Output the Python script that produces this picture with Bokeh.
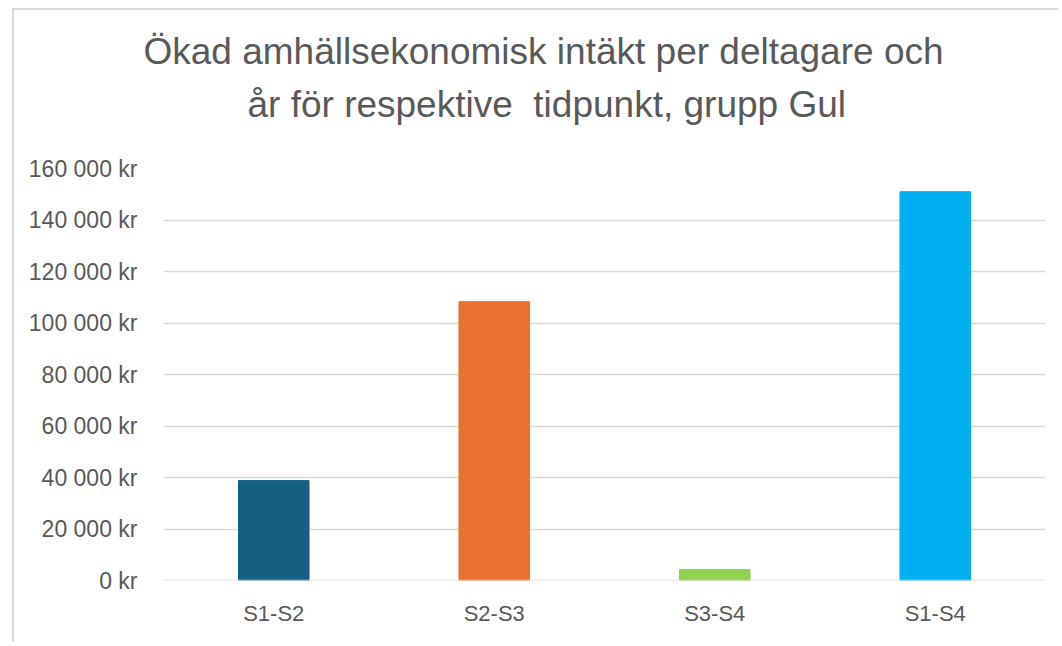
from bokeh.plotting import figure
from bokeh.models import FixedTicker, Range1d, FactorRange, Title, Span, ColumnDataSource
from bokeh.embed import file_html
from bokeh.resources import INLINE

categories = ["S1-S2", "S2-S3", "S3-S4", "S1-S4"]
values = [38800, 108300, 4300, 151000]
colors = ["#156082", "#E97132", "#92D050", "#00B0F0"]
y_ticks = [0, 20000, 40000, 60000, 80000, 100000, 120000, 140000, 160000]
y_tick_labels = ["0 kr", "20 000 kr", "40 000 kr", "60 000 kr", "80 000 kr",
                 "100 000 kr", "120 000 kr", "140 000 kr", "160 000 kr"]
title_lines = ["Ökad amhällsekonomisk intäkt per deltagare och",
               "år för respektive\u00a0 tidpunkt, grupp Gul"]

FONT = "Liberation Sans"
TXT = "#595959"
GRID = "#d9d9d9"

p = figure(
    width=1046, height=634,
    x_range=FactorRange(*categories, range_padding=0),
    y_range=Range1d(0, 160000),
    output_backend="svg", toolbar_location=None,
    min_border_left=149, min_border_right=15, min_border_top=158, min_border_bottom=64,
    styles={"border-top": "2px solid #d9d9d9", "border-left": "2px solid #d9d9d9",
            "margin-left": "12px", "margin-top": "8px"},
)
p.outline_line_color = None
p.background_fill_color = "white"
p.border_fill_color = "white"

src = ColumnDataSource(dict(cat=categories, val=values, color=colors))
p.vbar(x="cat", top="val", width=0.32, color="color", source=src)

p.xgrid.grid_line_color = None
p.ygrid.grid_line_color = GRID
p.ygrid.grid_line_width = 1.5
p.ygrid.ticker = FixedTicker(ticks=y_ticks)

p.add_layout(Span(location=0, dimension="width", line_color=GRID, line_width=1.5, level="overlay"))

p.yaxis.ticker = FixedTicker(ticks=y_ticks)
p.yaxis.major_label_overrides = {t: l for t, l in zip(y_ticks, y_tick_labels)}
for ax in (p.xaxis, p.yaxis):
    ax.axis_line_color = None
    ax.major_tick_line_color = None
    ax.minor_tick_line_color = None
    ax.major_label_text_color = TXT
    ax.major_label_text_font = FONT
    ax.major_label_text_font_size = "22px"
p.yaxis.major_label_text_font_size = "23px"
p.yaxis.major_label_standoff = 20
p.xaxis.major_label_standoff = 14

# spacer between frame and the title block
p.add_layout(Title(text="\u00a0", text_font=FONT, text_font_size="24px", text_color="white"), "above")

# title lines, added from the frame outward (last line first)
offsets = [-20, 84]
for line, off in reversed(list(zip(title_lines, offsets))):
    p.add_layout(Title(text=line, align="left", offset=off,
                       text_font=FONT, text_font_size="37px", text_color=TXT,
                       text_font_style="normal"), "above")

open("out.html", "w").write(file_html(p, INLINE))
